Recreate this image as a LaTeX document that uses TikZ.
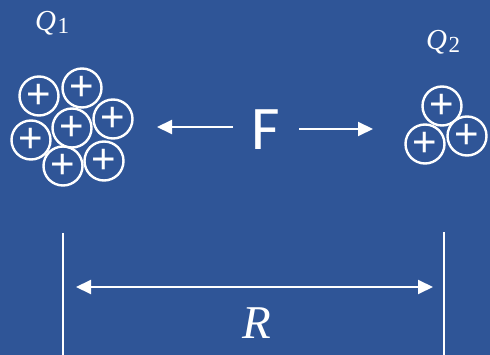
\documentclass[tikz,border=0pt]{standalone}
\usepackage{fontspec}
\newfontfamily\sansF{Carlito}
\newfontfamily\plusF{Liberation Sans}
\newfontfamily\serifF{Liberation Serif}
\usetikzlibrary{arrows.meta}
\definecolor{bg}{RGB}{47,85,151}
\newcommand{\qlabel}[1]{{\serifF\fontsize{29}{29}\selectfont\itshape Q}\kern1.5pt\raisebox{-3pt}{\serifF\fontsize{23}{23}\selectfont #1}}
\begin{document}
\begin{tikzpicture}[x=1pt,y=-1pt,
  charge/.style={circle, draw=white, fill=bg, line width=2.4pt, minimum size=39pt,
    inner sep=0pt, text=white, font=\plusF\fontsize{42}{42}\selectfont},
  lbl/.style={text=white, inner sep=0pt},
  farrow/.style={draw=white, line width=2pt, -{Triangle[length=15pt,width=14pt]}},
  dimline/.style={draw=white, line width=1.6pt},
  dimarrow/.style={draw=white, line width=2pt, {Triangle[length=15pt,width=14pt]}-{Triangle[length=15pt,width=14pt]}}]
\fill[bg] (0,0) rectangle (490,355);
\useasboundingbox (0,0) rectangle (490,355);
% Q1 charges
\node[charge] (a) at (39,96) {+};
\node[charge] (b) at (82,88) {+};
\node[charge] (c) at (113,119) {+};
\node[charge] (e) at (31,140) {+};
\node[charge] (g) at (104,161) {+};
\node[charge] (f) at (63,166) {+};
\node[charge] (d) at (72,128) {+};
% Q2 charges
\node[charge] (h) at (442,106) {+};
\node[charge] (i) at (425,144) {+};
\node[charge] (j) at (467,136) {+};
% labels
\node[lbl, anchor=base west] (q1) at (35,31) {\qlabel{1}};
\node[lbl, anchor=base west] (q2) at (426,50) {\qlabel{2}};
\node[lbl, font=\sansF\fontsize{62}{62}\selectfont] (F) at (266,130) {F};
\node[lbl, anchor=base, font=\serifF\fontsize{47}{47}\selectfont\itshape] (R) at (257,338) {R};
% force arrows
\coordinate (fl0) at (233,127);
\coordinate (fl1) at (157,127);
\coordinate (fr0) at (299,129);
\coordinate (fr1) at (373,129);
\draw[farrow] (fl0) -- (fl1);
\draw[farrow] (fr0) -- (fr1);
% dimension
\coordinate (v1t) at (63,233);
\coordinate (v1b) at (63,355);
\coordinate (v2t) at (444,232);
\coordinate (v2b) at (444,355);
\draw[dimline] (v1t) -- (v1b);
\draw[dimline] (v2t) -- (v2b);
\coordinate (d1) at (76,287);
\coordinate (d2) at (433,287);
\draw[dimarrow] (d1) -- (d2);
\end{tikzpicture}
\end{document}
